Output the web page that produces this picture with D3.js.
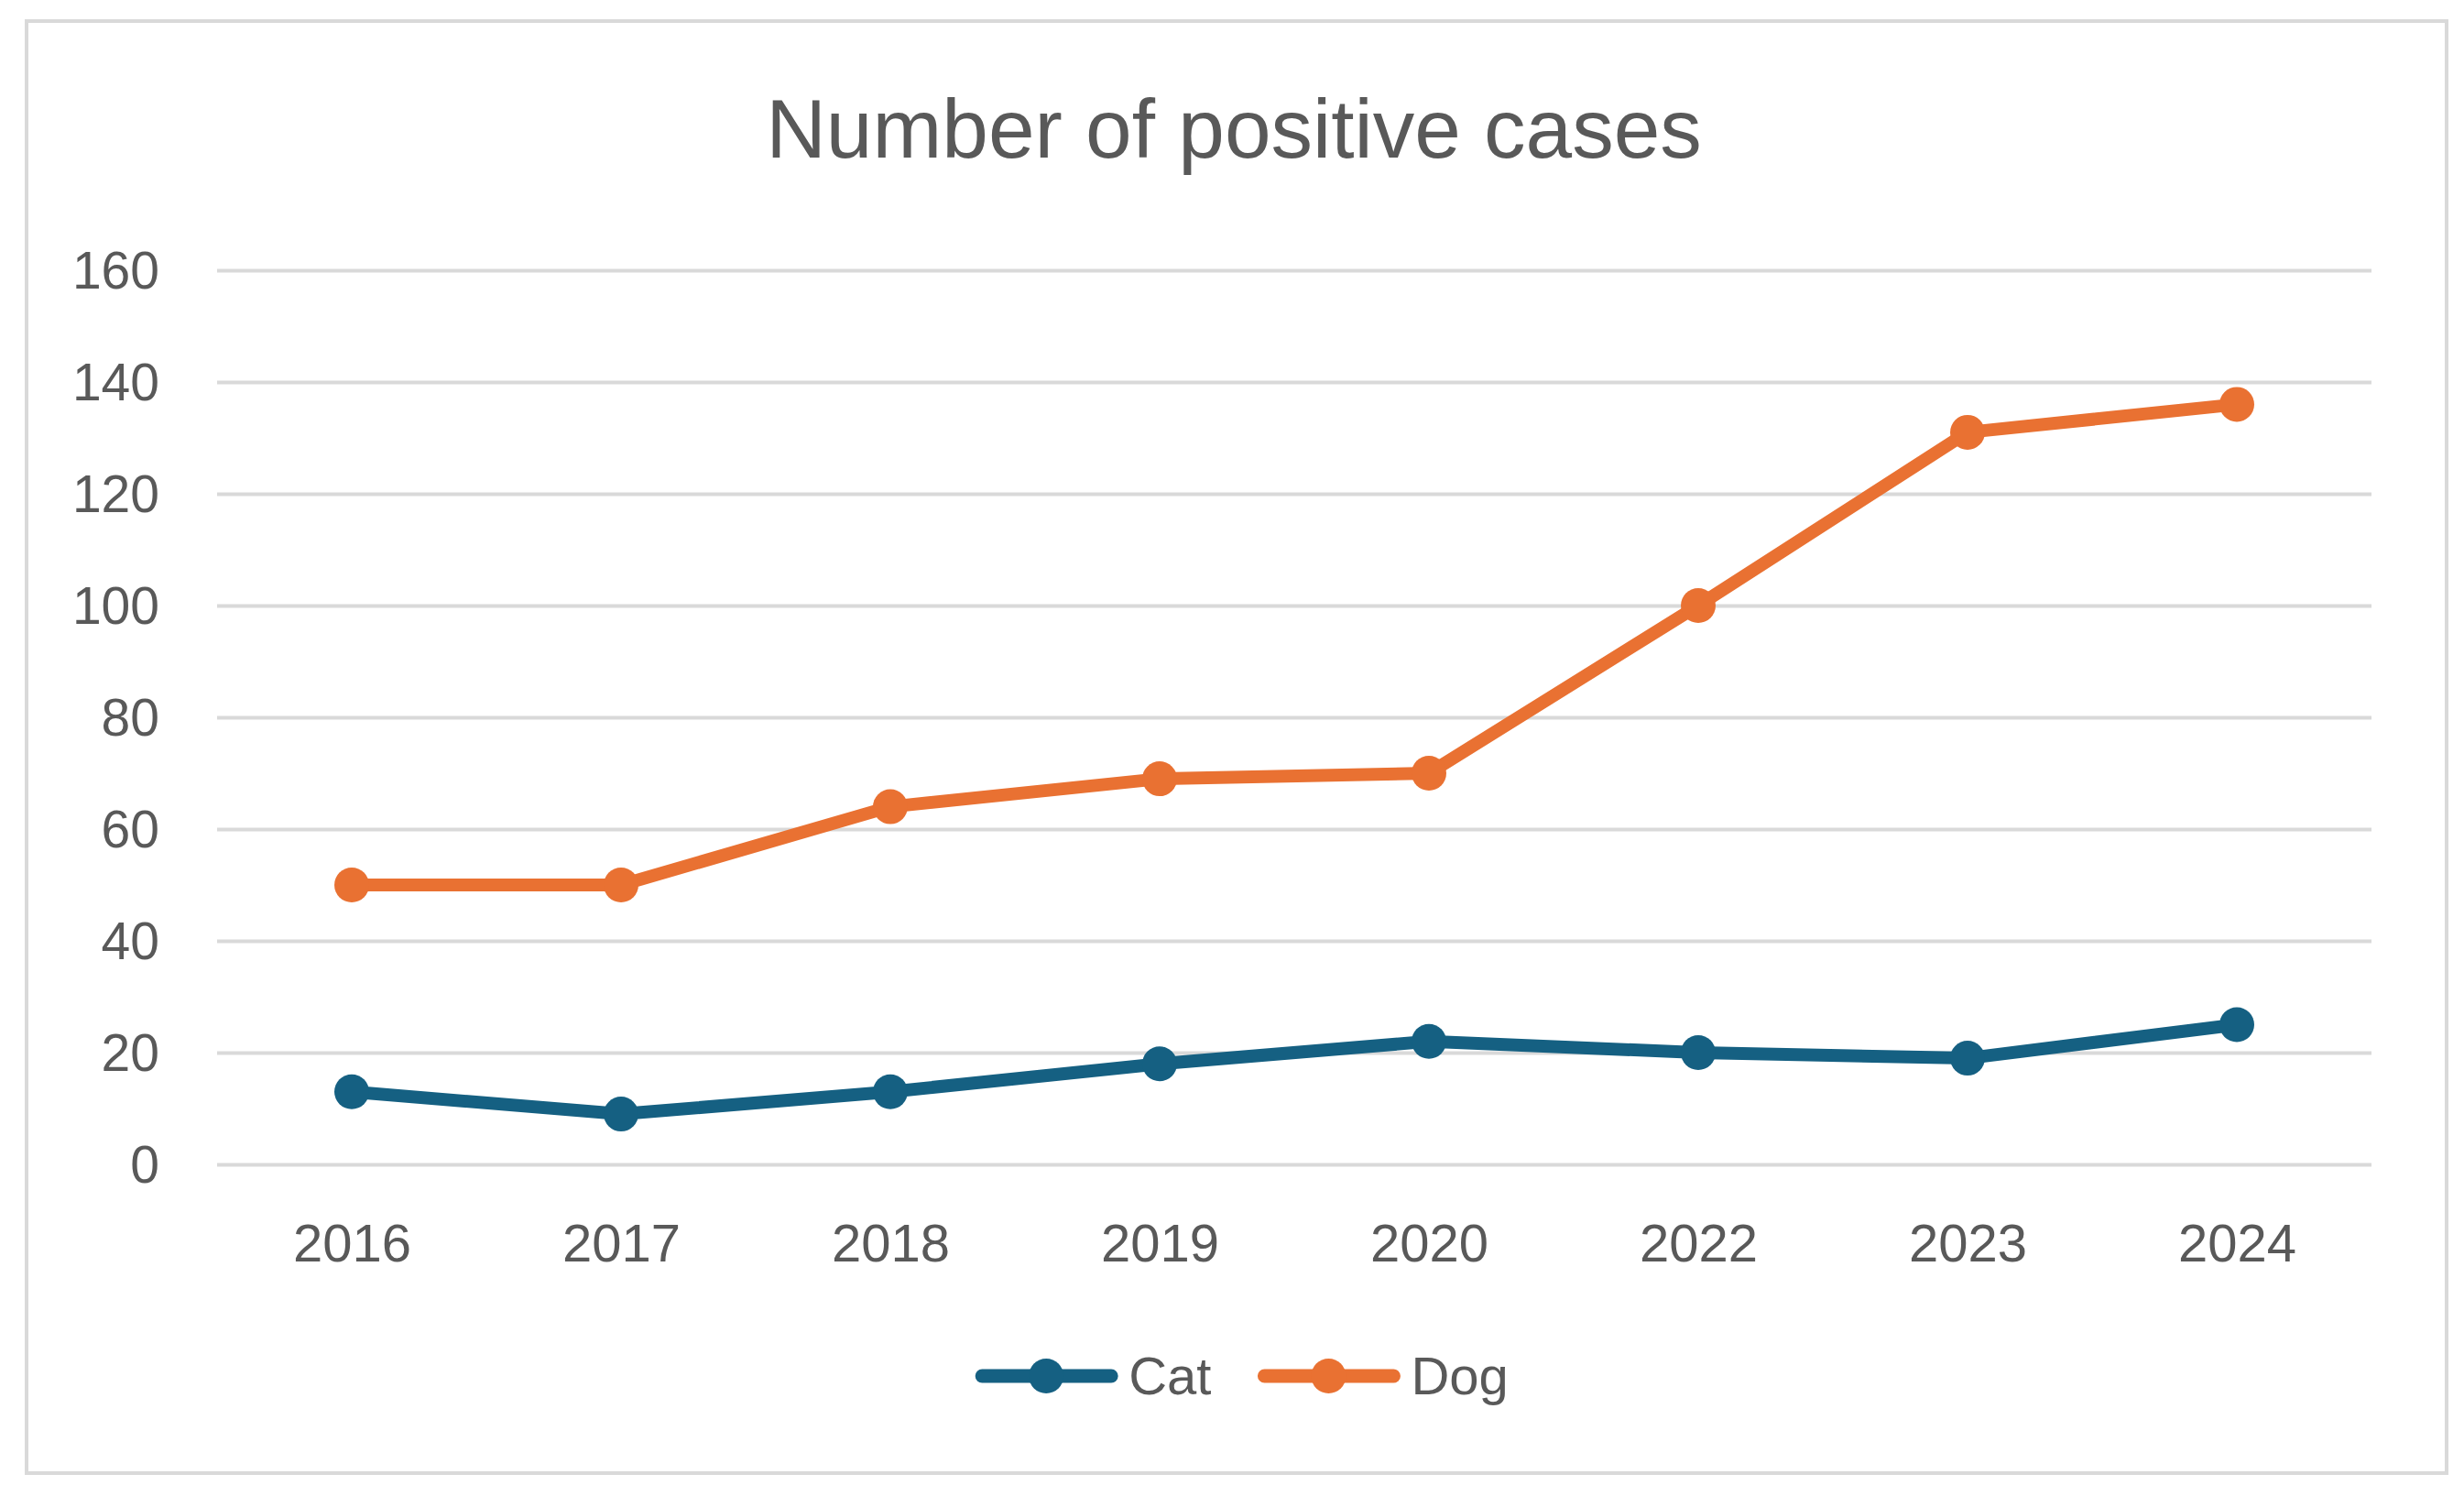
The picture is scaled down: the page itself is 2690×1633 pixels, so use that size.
<html>
  <head>
    <script src="https://cdn.jsdelivr.net/npm/d3@7"></script>
    <style>
      body { margin: 0; background: #ffffff; }
      text { font-family: "Liberation Sans", Arial, sans-serif; fill: #595959; }
    </style>
  </head>
  <body>
    <script>
      // chart values
      const years = ["2016", "2017", "2018", "2019", "2020", "2022", "2023", "2024"];
      const catValues = [13, 9, 13, 18, 22, 20, 19, 25];
      const dogValues = [50, 50, 64, 69, 70, 100, 131, 136];
      const yTicks = [0, 20, 40, 60, 80, 100, 120, 140, 160];
      const seriesNames = ["Cat", "Dog"];
      const seriesColors = ["#156082", "#E97132"];

      const width = 2690, height = 1633;
      const plot = { left: 237, right: 2589, top: 295, bottom: 1271 };

      const svg = d3.select("body")
          .append("svg")
          .attr("width", width)
          .attr("height", height);

      svg.append("rect")
          .attr("width", width)
          .attr("height", height)
          .attr("fill", "#ffffff");

      // outer chart border
      svg.append("rect")
          .attr("x", 29)
          .attr("y", 23)
          .attr("width", 2642)
          .attr("height", 1585)
          .attr("fill", "none")
          .attr("stroke", "#d9d9d9")
          .attr("stroke-width", 4);

      svg.append("text")
          .attr("x", 1347)
          .attr("y", 172)
          .attr("text-anchor", "middle")
          .style("font-size", "91px")
          .text("Number of positive cases");

      const x = d3.scalePoint()
          .domain(years)
          .range([plot.left, plot.right])
          .padding(0.5);

      const y = d3.scaleLinear()
          .domain([0, 160])
          .range([plot.bottom, plot.top]);

      // y axis with gridlines
      const yAxis = svg.append("g")
          .attr("transform", `translate(${plot.left},0)`)
          .call(d3.axisLeft(y)
              .tickValues(yTicks)
              .tickSize(-(plot.right - plot.left))
              .tickPadding(63));
      yAxis.select(".domain").remove();
      yAxis.selectAll(".tick line")
          .attr("stroke", "#d9d9d9")
          .attr("stroke-width", 4);
      yAxis.selectAll(".tick text")
          .attr("dy", "0.35em")
          .style("font-size", "57px")
          .style("font-family", "Liberation Sans, Arial, sans-serif")
          .attr("fill", "#595959");

      // x axis labels
      const xAxis = svg.append("g")
          .attr("transform", `translate(0,${plot.bottom})`)
          .call(d3.axisBottom(x).tickSize(0).tickPadding(65));
      xAxis.select(".domain").remove();
      xAxis.selectAll(".tick text")
          .style("font-size", "58px")
          .style("font-family", "Liberation Sans, Arial, sans-serif")
          .attr("fill", "#595959");

      const series = [catValues, dogValues].map((vals, i) => ({
          name: seriesNames[i],
          color: seriesColors[i],
          points: years.map((yr, j) => ({ year: yr, value: vals[j] }))
      }));

      const line = d3.line()
          .x(d => x(d.year))
          .y(d => y(d.value));

      series.forEach(s => {
          svg.append("path")
              .datum(s.points)
              .attr("fill", "none")
              .attr("stroke", s.color)
              .attr("stroke-width", 14)
              .attr("stroke-linejoin", "round")
              .attr("stroke-linecap", "round")
              .attr("d", line);

          svg.append("g")
              .selectAll("circle")
              .data(s.points)
              .join("circle")
              .attr("cx", d => x(d.year))
              .attr("cy", d => y(d.value))
              .attr("r", 19)
              .attr("fill", s.color);
      });

      // legend, centred under the chart
      const legend = svg.append("g");
      let cursor = 0;
      series.forEach((s, i) => {
          const item = legend.append("g").attr("transform", `translate(${cursor},0)`);
          item.append("line")
              .attr("x1", 7).attr("x2", 148)
              .attr("y1", 0).attr("y2", 0)
              .attr("stroke", s.color)
              .attr("stroke-width", 15)
              .attr("stroke-linecap", "round");
          item.append("circle")
              .attr("cx", 77)
              .attr("cy", 0)
              .attr("r", 19)
              .attr("fill", s.color);
          const label = item.append("text")
              .attr("x", 167)
              .attr("y", 20)
              .style("font-size", "58px")
              .text(s.name);
          cursor += 167 + label.node().getComputedTextLength() + 51;
      });
      const legendWidth = cursor - 51;
      legend.attr("transform", `translate(${1356 - legendWidth / 2},1502)`);
    </script>
  </body>
</html>
